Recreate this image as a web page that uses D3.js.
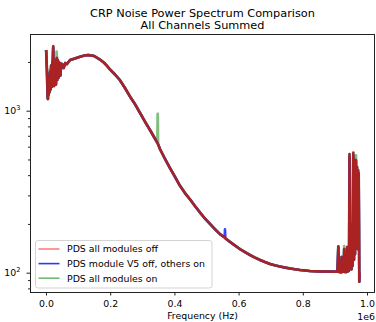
<!DOCTYPE html>
<html><head><meta charset="utf-8">
<script src="https://cdn.jsdelivr.net/npm/d3@7"></script>
<style>body{margin:0;background:#fff}svg{display:block}text{font-family:"DejaVu Sans",sans-serif;fill:#000}</style>
</head><body><svg id="c" width="376" height="322"></svg>
<script>
const titleLines = ["CRP Noise Power Spectrum Comparison", "All Channels Summed"];
const xLabel = "Frequency (Hz)";
const xOffsetLabel = "1e6";
const seriesNames = ["PDS all modules off", "PDS module V5 off, others on", "PDS all modules on"];

const freqKHz = [0.5,3,5,6,7,8,9,10,11,12,13,14,15,16,17,18,19,20,21,22.5,24,25,26,27,28,29,30,31,32,33,34,35,36,37,38,39,40,42,43,45,46,48,50,55,60,65,
  75,90,106,120,132,150,168,180,189,199,215,230,246,262,277,293,308,324,340,347,348,349,355,370,386,402,417,433,449,464,480,495,511,526,542,556.5,557.6,558.7,573,589,604,620,636,651,667,682,698,713,729,745,760,776,791,807,822,838,854,869,885,900,
  906,908,910.6,913,919,921,923,927,929,931,936,938.6,941,944,945.5,947,948.6,950.2,951.7,953.3,954.8,957.3,959.5,961,962.6,964.2,965.7,967.3,968.8,970.4,972,973.5,974.1,975.1,976,976.6];

const psdAllOff = [2370,1780,1215,1180,1340,1250,1600,1545,1300,1700,1740,1350,1440,1900,1845,1400,1500,2000,2000,2500,1660,1420,1945,1500,1545,1900,2055,1450,1640,1850,2115,1550,1690,2050,2000,1600,1735,1950,1970,1650,1780,1950,1940,1835,1970,1940,
  2054,2100,2153,2191,2207,2176,2070,1984,1901,1801,1673,1547,1381,1220,1100,968,858,760,669,632,627,622,580,507,443,390,345,310,283,258,235,216,200,186,173,165,164,163,155,147,140,134,128.5,124,119.8,116.4,113.2,111,109.2,107.5,106.2,105,104,103.2,102.4,102,101.7,101.7,101.7,101.5,
  101.5,102,145,101,100.5,125,101,102,140,101,101,144,102,103,540,130,110,190,105,200,110,550,120,500,130,480,495,150,450,140,430,160,411,200,88,100];

const psdV5Off = [2370,1700,1215,1180,1480,1250,1600,1545,1300,1700,1740,1350,1440,1900,1845,1400,1500,2000,2000,2450,1660,1420,1945,1500,1545,1900,2055,1450,1640,1850,2115,1550,1690,2050,2000,1600,1735,1950,1970,1650,1780,1950,1940,1835,1970,1940,
  2054,2100,2153,2191,2207,2176,2070,1984,1901,1801,1673,1547,1381,1220,1100,968,858,760,669,632,627,622,580,507,443,390,345,310,283,258,235,216,200,186,173,165,185,163,155,147,140,134,128.5,124,119.8,116.4,113.2,111,109.2,107.5,106.2,105,104,103.2,102.4,102,101.7,101.7,101.7,101.5,
  101.5,102,145,101,100.5,125,101,102,140,101,101,144,102,103,520,130,110,190,105,200,110,530,120,500,130,480,495,150,450,140,430,160,411,200,88,100];

const psdAllOn = [2370,1780,1215,1180,1340,1250,1600,1545,1300,1700,1800,1350,1440,1900,1845,1400,1500,2000,2000,2500,1660,1420,1945,1500,1545,1900,2055,1450,1640,2313,2115,1550,1690,2050,2000,1600,1735,1950,1970,1650,1780,1950,1940,1835,1970,1940,
  2054,2100,2153,2191,2207,2176,2070,1984,1901,1801,1673,1547,1381,1220,1100,968,858,760,669,632,954,622,580,507,443,390,345,310,283,258,235,216,200,186,173,165,164,163,155,147,140,134,128.5,124,119.8,116.4,113.2,111,109.2,107.5,106.2,105,104,103.2,102.4,102,101.7,101.7,101.7,101.5,
  101.5,102,145,101,100.5,125,101,102,146,101,101,144,102,103,540,130,110,190,105,200,110,550,120,500,130,480,530,150,450,140,430,160,411,200,88,100];

const xTicks = [0, 200000, 400000, 600000, 800000, 1000000];
const xTickLabels = ["0.0", "0.2", "0.4", "0.6", "0.8", "1.0"];
const yMajor = [100, 1000];
const yMajorExp = ["2", "3"];
const yMinor = [80, 90, 200, 300, 400, 500, 600, 700, 800, 900, 2000];

const W = 376, H = 322;
const L = 30, R = 375, T = 34, B = 292;
const svg = d3.select("#c");

const x = d3.scaleLinear().domain([-49844, 1024922]).range([L, R]);
const y = d3.scaleLog().domain([76.0, 2975]).range([B, T]);

svg.append("defs").append("clipPath").attr("id", "clip")
  .append("rect").attr("x", L).attr("y", T).attr("width", R - L).attr("height", B - T);

const mk = vals => freqKHz.map((f, i) => ({f: f * 1000, v: vals[i]}));
const line = d3.line().x(d => x(d.f)).y(d => y(d.v));

const g = svg.append("g").attr("clip-path", "url(#clip)");
const series = [
  {vals: psdAllOn, color: "rgb(0,128,0)", op: 0.5, w: 2.8},
  {vals: psdV5Off, color: "rgb(0,0,255)", op: 0.75, w: 2.6},
  {vals: psdAllOff, color: "#aa2222", op: 1, w: 2.5}
];
series.forEach(s => {
  g.append("path").datum(mk(s.vals)).attr("d", line)
    .attr("fill", "none").attr("stroke", s.color).attr("stroke-opacity", s.op)
    .attr("stroke-width", s.w).attr("stroke-linejoin", "round");
});

// frame
svg.append("rect").attr("x", L + 0.5).attr("y", T + 0.5).attr("width", R - L - 1).attr("height", B - T)
  .attr("fill", "none").attr("stroke", "#222").attr("stroke-width", 1);

// x axis
const xa = svg.append("g").attr("transform", `translate(0,${B})`)
  .call(d3.axisBottom(x).tickValues(xTicks).tickFormat((d, i) => xTickLabels[i]).tickSize(3.5).tickPadding(4.5));
xa.select(".domain").remove();
xa.selectAll("line").attr("stroke", "#222");
xa.selectAll("text").attr("font-size", 9.4).style("font-family", "DejaVu Sans");

// y minor
const ym = svg.append("g").attr("transform", `translate(${L},0)`)
  .call(d3.axisLeft(y).tickValues(yMinor).tickFormat("").tickSize(2));
ym.select(".domain").remove();
ym.selectAll("line").attr("stroke", "#222");

// y major
const ya = svg.append("g").attr("transform", `translate(${L},0)`)
  .call(d3.axisLeft(y).tickValues(yMajor).tickFormat("").tickSize(3.5));
ya.select(".domain").remove();
ya.selectAll("line").attr("stroke", "#222");
yMajor.forEach((v, i) => {
  const t = svg.append("text").attr("x", 20.5).attr("y", y(v) + 3.4)
    .attr("text-anchor", "end").attr("font-size", 9.4);
  t.append("tspan").text("10");
  t.append("tspan").attr("dy", -3.8).attr("font-size", 6.6).text(yMajorExp[i]);
});

// title
titleLines.forEach((s, i) => {
  svg.append("text").attr("x", (L + R) / 2).attr("y", 16.7 + i * 12.6)
    .attr("text-anchor", "middle").attr("font-size", 11.3).text(s);
});

// x label and offset
svg.append("text").attr("x", (L + R) / 2).attr("y", 319).attr("text-anchor", "middle")
  .attr("font-size", 9.4).text(xLabel);
svg.append("text").attr("x", R).attr("y", 319.5).attr("text-anchor", "end")
  .attr("font-size", 9.4).text(xOffsetLabel);

// legend
const lg = svg.append("g");
lg.append("rect").attr("x", 35.5).attr("y", 240.5).attr("width", 176.5).attr("height", 47.5)
  .attr("rx", 2.5).attr("fill", "#fff").attr("fill-opacity", 0.8).attr("stroke", "#d3d3d3").attr("stroke-width", 1);
const legColors = [["rgb(255,0,0)", 0.5], ["rgb(0,0,255)", 0.8], ["rgb(0,128,0)", 0.55]];
seriesNames.forEach((n, i) => {
  const yy = 249 + i * 14.6;
  lg.append("line").attr("x1", 38.5).attr("x2", 59.5).attr("y1", yy).attr("y2", yy)
    .attr("stroke", legColors[i][0]).attr("stroke-opacity", legColors[i][1]).attr("stroke-width", 1.6);
  lg.append("text").attr("x", 67).attr("y", yy + 3.4).attr("font-size", 9.4).text(n);
});
</script></body></html>
